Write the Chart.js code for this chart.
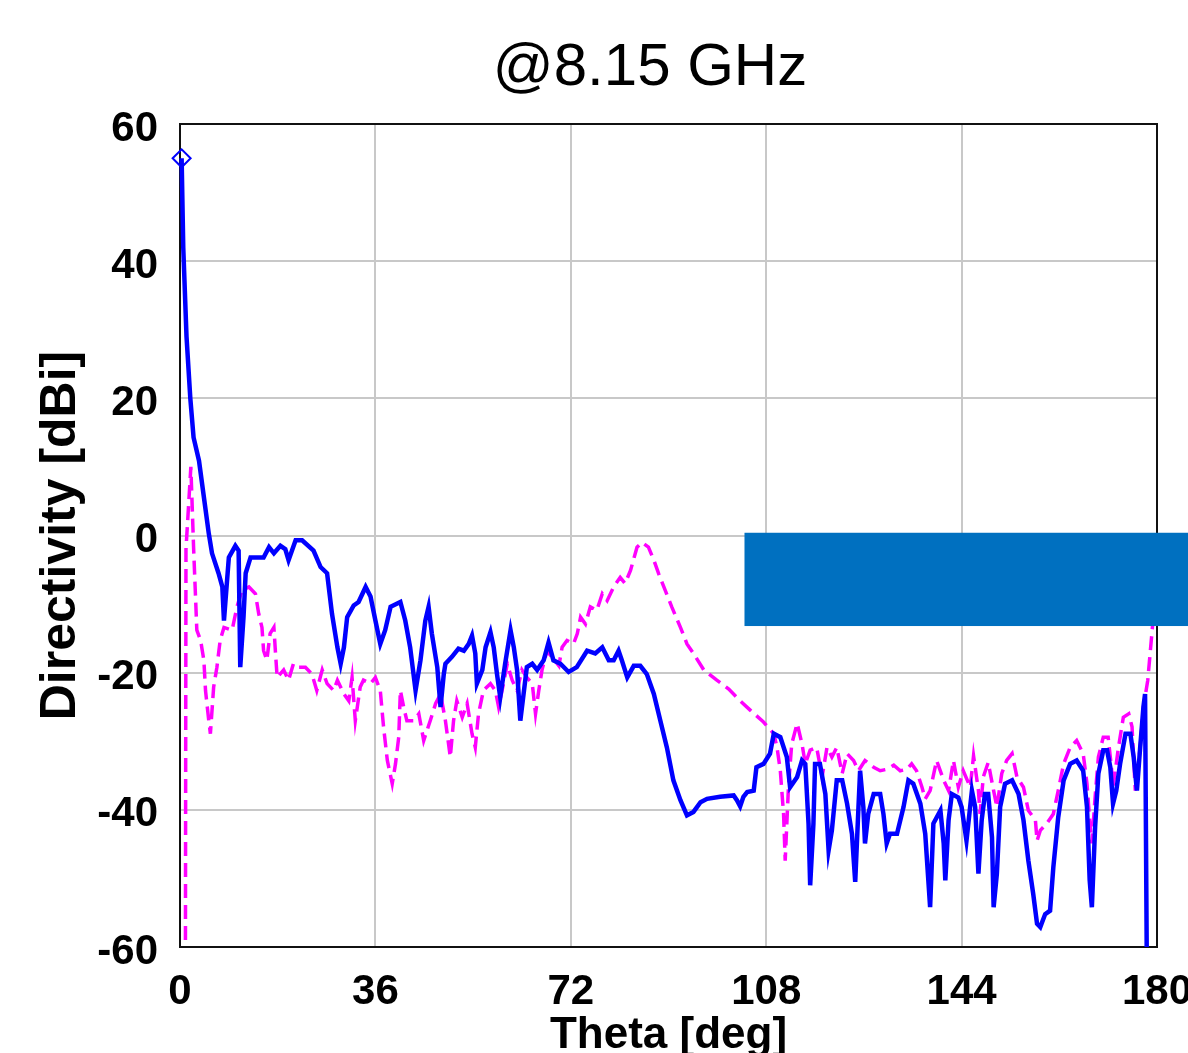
<!DOCTYPE html>
<html>
<head>
<meta charset="utf-8">
<script src="https://cdn.jsdelivr.net/npm/chart.js@4.4.0/dist/chart.umd.min.js"></script>
<style>
  body { margin: 0; background: #fff; }
  canvas { display: block; }
</style>
</head>
<body>
<canvas id="chart" width="1188" height="1053"></canvas>
<script>
const chartTitle = '@8.15 GHz';
const xTitle = 'Theta [deg]';
const yTitle = 'Directivity [dBi]';
const xTicks = [0, 36, 72, 108, 144, 180];
const yTicks = [-60, -40, -20, 0, 20, 40, 60];

// [theta deg, directivity dBi]
const blueTrace = [
  [0.3, 55], [0.6, 42], [1.2, 29], [1.9, 20], [2.5, 14.3], [3.5, 10.9], [4.4, 5.6], [5.3, 0.3], [5.9, -2.6],
  [7.1, -5.5], [7.8, -7.5], [8.1, -12.4], [9.0, -3.2], [10.2, -1.5], [10.8, -2.2], [11.1, -19.2], [11.7, -11.9],
  [12.1, -5.5], [13.0, -3.2], [15.4, -3.2], [16.4, -1.7], [17.3, -2.6], [18.5, -1.5], [19.4, -2.0], [20.0, -3.6],
  [21.3, -0.7], [22.5, -0.7], [24.6, -2.2], [25.9, -4.6], [27.1, -5.5], [28.0, -11.4], [29.0, -16.3], [29.6, -18.7],
  [30.2, -16.3], [30.8, -11.9], [32.0, -10.2], [32.9, -9.7], [34.2, -7.5], [35.1, -8.9], [36.0, -12.4], [36.9, -15.8],
  [37.8, -13.8], [38.8, -10.4], [40.6, -9.7], [41.5, -12.4], [42.4, -16.3], [43.4, -22.6], [44.3, -18.2], [45.2, -12.4],
  [45.8, -10.4], [46.4, -14.3], [47.4, -19.2], [48.0, -25.0], [48.6, -20.2], [48.9, -18.7], [50.1, -17.7], [51.3, -16.5],
  [52.3, -16.8], [53.2, -15.8], [53.8, -14.6], [54.4, -17.2], [54.7, -21.6], [55.7, -19.6], [56.3, -16.3], [57.2, -14.1],
  [57.8, -16.3], [58.4, -20.2], [59.0, -23.6], [59.9, -18.7], [60.9, -13.8], [61.5, -16.3], [62.1, -19.6], [62.7, -27.0],
  [63.3, -23.1], [63.9, -19.2], [64.9, -18.7], [65.8, -19.6], [67.0, -18.2], [67.9, -15.6], [68.8, -18.2], [70.1, -18.7],
  [71.6, -19.9], [73.1, -19.2], [75.0, -16.8], [76.5, -17.2], [77.8, -16.3], [79.0, -18.2], [79.9, -18.2], [80.8, -16.8],
  [81.4, -18.2], [82.4, -20.7], [83.6, -19.0], [84.8, -19.0], [86.0, -20.2], [87.3, -23.1], [88.5, -27.0], [89.7, -30.9],
  [90.9, -35.7], [92.2, -38.6], [93.4, -40.8], [94.6, -40.3], [95.9, -38.9], [97.1, -38.4], [99.5, -38.1], [102.0, -37.9],
  [102.6, -38.6], [103.2, -39.5], [103.8, -38.1], [104.5, -37.4], [105.7, -37.2], [106.2, -33.8], [107.5, -33.3],
  [108.7, -31.8], [109.4, -28.9], [110.6, -29.4], [111.8, -32.3], [112.4, -36.7], [113.7, -35.2], [114.6, -32.8],
  [115.2, -33.3], [115.8, -42.0], [116.1, -51.0], [116.7, -42.0], [117.0, -33.3], [117.9, -33.3], [118.9, -37.7],
  [119.5, -45.9], [120.1, -43.0], [121.0, -35.7], [122.0, -35.7], [122.9, -39.1], [123.8, -43.5], [124.4, -50.5],
  [125.0, -39.6], [125.3, -34.3], [125.9, -39.6], [126.2, -44.9], [126.8, -40.6], [127.8, -37.7], [129.0, -37.7],
  [129.6, -40.6], [130.2, -44.9], [130.8, -43.5], [132.1, -43.5], [133.3, -39.6], [134.2, -35.7], [135.1, -36.2],
  [136.4, -39.1], [137.3, -43.5], [138.2, -54.2], [138.8, -42.0], [140.1, -40.1], [140.7, -44.9], [141.0, -50.3],
  [141.6, -41.5], [142.2, -37.7], [143.4, -38.2], [144.0, -39.6], [144.9, -44.5], [145.9, -37.2], [146.5, -39.6],
  [147.1, -49.3], [147.7, -41.5], [148.3, -37.7], [148.9, -37.7], [149.6, -44.0], [149.9, -54.2], [150.5, -49.3],
  [151.1, -39.6], [152.0, -36.2], [153.3, -35.7], [154.5, -37.7], [155.4, -41.5], [156.3, -47.4], [157.2, -52.3],
  [157.9, -56.6], [158.5, -57.1], [159.4, -55.2], [160.3, -54.7], [160.9, -48.4], [161.8, -41.1], [162.8, -35.7],
  [164.0, -33.3], [165.2, -32.8], [166.4, -34.3], [167.1, -39.6], [167.6, -50.3], [168.0, -54.2], [168.6, -42.5],
  [169.2, -34.7], [170.1, -31.3], [170.8, -31.3], [171.4, -33.8], [171.9, -39.1], [172.5, -37.2], [173.2, -33.3],
  [174.2, -28.9], [175.1, -28.9], [175.7, -32.3], [176.3, -37.2], [176.9, -30.9], [177.5, -25.0], [177.8, -23.1],
  [178.1, -60]
];

const magentaTrace = [
  [0, -65], [1.0, -62], [1.1, -2], [2.0, 10], [2.5, -1.7], [3.1, -13.8], [3.8, -15.3], [4.4, -18.2], [4.7, -22.6],
  [5.3, -27], [5.6, -28.9], [6.2, -22.1], [6.8, -19.2], [7.4, -15.3], [8.1, -13.4], [9.6, -13.8], [10.5, -10.4],
  [11.4, -8.0], [12.7, -7.5], [13.9, -8.5], [14.5, -11.4], [15.1, -13.4], [15.4, -16.8], [16.0, -18.2], [16.6, -14.3],
  [17.3, -13.4], [17.6, -17.2], [17.9, -20.7], [19.1, -19.6], [20.0, -21.1], [20.9, -18.7], [21.9, -19.2], [23.1, -19.2],
  [24.3, -20.2], [25.2, -22.6], [26.2, -19.6], [27.1, -21.6], [28.3, -22.6], [29.0, -21.1], [30.2, -23.1], [31.1, -24.1],
  [31.7, -20.7], [32.3, -27.0], [33.2, -22.1], [33.8, -21.1], [35.1, -21.6], [36.0, -20.7], [36.9, -22.6], [37.5, -27.9],
  [38.2, -32.8], [39.1, -36.2], [39.7, -33.3], [40.3, -29.4], [40.6, -22.6], [41.2, -25.0], [41.8, -27.0], [43.1, -27.0],
  [44.0, -26.0], [44.9, -29.9], [46.1, -27.0], [47.1, -24.5], [48.0, -23.1], [48.9, -27.0], [49.8, -32.3], [50.4, -27.0],
  [51.0, -24.1], [52.0, -26.5], [52.9, -24.5], [53.8, -28.9], [54.4, -30.9], [55.0, -26.0], [55.9, -22.6], [57.2, -21.6],
  [58.1, -22.6], [58.7, -25.0], [59.6, -21.6], [60.3, -18.7], [61.2, -21.1], [62.1, -22.6], [63.0, -19.6], [63.9, -20.7],
  [64.9, -21.6], [65.5, -26], [66.1, -22.6], [66.7, -19.6], [67.6, -16.8], [68.5, -17.7], [69.8, -19.0], [70.4, -16.3],
  [71.3, -15.3], [72.5, -15.8], [73.2, -14.3], [73.8, -11.9], [74.7, -12.9], [75.6, -10.4], [76.8, -10.9], [77.8, -8.5],
  [78.7, -9.5], [79.9, -7.5], [81.1, -6.1], [82.0, -7.0], [83.0, -5.1], [84.2, -1.7], [85.1, -1.0], [86.3, -1.7],
  [87.3, -3.6], [88.2, -5.6], [89.4, -8.0], [90.6, -10.4], [92.2, -13.4], [93.4, -15.8], [94.6, -17.2], [96.5, -19.6],
  [98.9, -21.1], [101.1, -22.4], [103.2, -24.1], [105.1, -25.5], [107.5, -27.2], [109.4, -28.9], [110.0, -30.9],
  [110.6, -34.3], [111.2, -40.6], [111.5, -47.4], [112.1, -36.7], [112.7, -30.4], [113.7, -27.4], [114.6, -30.4],
  [115.2, -33.3], [116.1, -31.3], [117.3, -30.9], [118.3, -35.2], [119.2, -30.9], [120.1, -32.3], [121.0, -30.9],
  [122.0, -34.7], [122.9, -31.8], [124.1, -32.8], [125.0, -34.3], [126.2, -32.8], [127.8, -33.8], [129.0, -34.3],
  [130.2, -34.1], [131.5, -33.5], [132.7, -34.3], [133.9, -34.1], [134.8, -33.3], [135.7, -34.3], [136.7, -36.7],
  [137.3, -38.4], [138.2, -37.2], [139.4, -32.8], [140.7, -35.7], [141.6, -37.2], [142.5, -32.8], [143.4, -36.7],
  [144.3, -34.3], [145.6, -36.7], [146.2, -32.1], [147.1, -37.2], [147.4, -40.6], [148.0, -35.2], [148.9, -33.1],
  [149.9, -37.2], [150.5, -39.6], [151.4, -34.7], [152.3, -32.8], [153.3, -31.8], [154.2, -35.2], [155.4, -36.7],
  [156.3, -40.1], [157.6, -41.5], [157.9, -44.5], [158.5, -43.0], [159.7, -42.0], [160.9, -40.6], [161.8, -37.2],
  [162.8, -33.3], [164.0, -30.9], [165.2, -29.9], [166.4, -31.8], [167.1, -36.2], [167.6, -41.5], [168.0, -44.9],
  [168.6, -38.1], [169.2, -32.3], [170.1, -29.4], [171.0, -29.4], [171.6, -33.8], [171.9, -36.7], [172.9, -30.9],
  [173.8, -26.5], [174.8, -26.0], [175.4, -27.9], [176.0, -37.2], [176.9, -30.9], [177.5, -25.0], [178.3, -21.1],
  [179.2, -13], [180, -8]
];

// blue patch over the plot: theta from 104 to past the right edge, dBi 0.4 .. -13.2
const patchTheta = 104;
const patchTop = 0.4;
const patchBottom = -13.2;

const tickFont = { family: "'Liberation Sans', Arial, sans-serif", size: 42, weight: 'bold' };

const framePlugin = {
  id: 'frame',
  beforeDatasetsDraw(chart) {
    const a = chart.chartArea;
    const ctx = chart.ctx;
    ctx.save();
    ctx.strokeStyle = '#111';
    ctx.lineWidth = 2;
    ctx.strokeRect(a.left, a.top, a.right - a.left, a.bottom - a.top);
    ctx.restore();
  },
  afterDatasetsDraw(chart) {
    const ctx = chart.ctx;
    const x = chart.scales.x, y = chart.scales.y;
    const left = x.getPixelForValue(patchTheta);
    const top = y.getPixelForValue(patchTop);
    const bottom = y.getPixelForValue(patchBottom);
    ctx.save();
    ctx.fillStyle = '#0070c0';
    ctx.fillRect(left, top, chart.width - left, bottom - top);
    ctx.restore();
  },
  afterDraw(chart) {
    const ctx = chart.ctx;
    ctx.save();
    ctx.fillStyle = '#000';
    ctx.font = "60px 'Liberation Sans', Arial, sans-serif";
    ctx.textAlign = 'center';
    ctx.textBaseline = 'middle';
    ctx.fillText(chartTitle, 650, 68);
    ctx.restore();
  }
};

new Chart('chart', {
  type: 'line',
  data: {
    datasets: [
      {
        label: 'blue',
        data: blueTrace.map(p => ({ x: p[0], y: p[1] })),
        borderColor: '#0000ff',
        borderWidth: 4.5,
        tension: 0,
        clip: false,
        pointRadius: (c) => c.dataIndex === 0 ? 9 : 0,
        pointStyle: 'rectRot',
        pointBackgroundColor: 'rgba(255,255,255,0)',
        pointBorderColor: '#0000ff',
        pointBorderWidth: 2,
        order: 1,
      },
      {
        label: 'magenta',
        data: magentaTrace.map(p => ({ x: p[0], y: p[1] })),
        borderColor: '#ff00ff',
        borderWidth: 3.5,
        borderDash: [14, 7],
        tension: 0,
        pointRadius: 0,
        order: 2,
      },
    ],
  },
  options: {
    responsive: false,
    animation: false,
    devicePixelRatio: 1,
    layout: { padding: { top: 124, right: 31, left: 0, bottom: 0 } },
    plugins: {
      legend: { display: false },
      tooltip: { enabled: false },
    },
    scales: {
      x: {
        type: 'linear',
        min: 0,
        max: 180,
        afterFit: (s) => { s.height = 106; s.paddingLeft = 0; s.paddingRight = 0; },
        afterBuildTicks: (s) => { s.ticks = xTicks.map(v => ({ value: v })); },
        grid: { color: '#c8c8c8', lineWidth: 2, drawTicks: false },
        border: { display: false },
        ticks: { color: '#000', font: tickFont, padding: 20, maxRotation: 0 },
        title: {
          display: true,
          text: xTitle,
          color: '#000',
          font: { family: "'Liberation Sans', Arial, sans-serif", size: 44, weight: 'bold', lineHeight: 0.8 },
          padding: { top: 0, bottom: 0 },
        },
      },
      y: {
        min: -60,
        max: 60,
        afterFit: (s) => { s.width = 180; s.paddingTop = 0; s.paddingBottom = 0; },
        afterBuildTicks: (s) => { s.ticks = yTicks.map(v => ({ value: v })); },
        grid: { color: '#c8c8c8', lineWidth: 2, drawTicks: false },
        border: { display: false },
        ticks: { color: '#000', font: tickFont, padding: 22, labelOffset: 5 },
        title: {
          display: true,
          text: yTitle,
          color: '#000',
          font: { family: "'Liberation Sans', Arial, sans-serif", size: 50, weight: 'bold', lineHeight: 1 },
          padding: { top: 36, bottom: 0 },
        },
      },
    },
  },
  plugins: [framePlugin],
});
</script>
</body>
</html>
